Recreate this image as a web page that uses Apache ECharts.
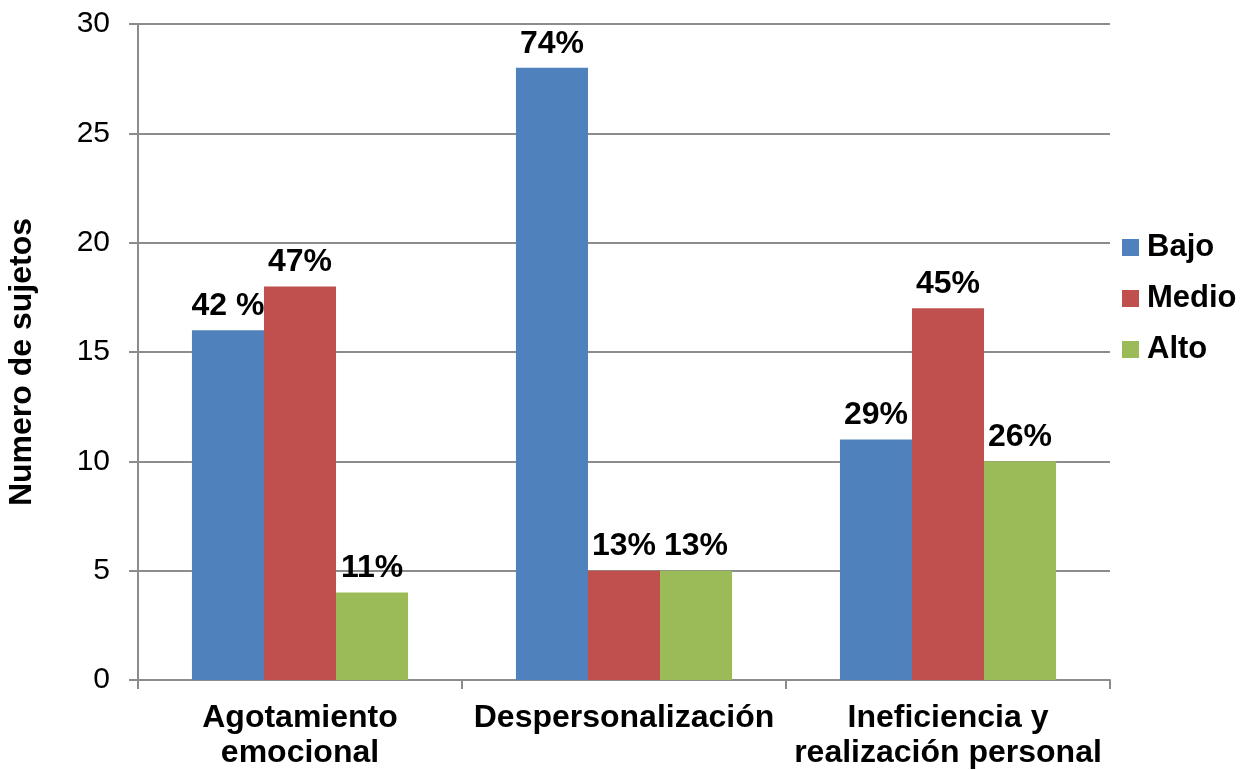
<!DOCTYPE html>
<html>
<head>
<meta charset="utf-8">
<script src="https://cdn.jsdelivr.net/npm/echarts@6/dist/echarts.min.js"></script>
<style>
  html, body { margin: 0; padding: 0; background: #fff; }
  #chart { width: 1250px; height: 770px; }
</style>
</head>
<body>
<div id="chart"></div>
<script>
// datos del grafico
var categorias = ['Agotamiento\nemocional', 'Despersonalización', 'Ineficiencia y\nrealización personal'];
var bajo = [16, 28, 11];
var medio = [18, 5, 17];
var alto = [4, 5, 10];
var pctBajo = ['42 %', '74%', '29%'];
var pctMedio = ['47%', '13%', '45%'];
var pctAlto = ['11%', '13%', '26%'];
var ticksY = [0, 5, 10, 15, 20, 25, 30];

var fuente = 'Liberation Sans, Arial, sans-serif';

function serie(nombre, valores, etiquetas, color) {
    return {
        name: nombre,
        type: 'bar',
        data: valores,
        barGap: '0%',
        barCategoryGap: '33.3%',
        itemStyle: { color: color },
        label: {
            show: true,
            position: 'top',
            distance: 8,
            color: '#000',
            fontFamily: fuente,
            fontWeight: 'bold',
            fontSize: 32,
            formatter: function (p) { return etiquetas[p.dataIndex]; }
        }
    };
}

var myChart = echarts.init(document.getElementById('chart'));
myChart.setOption({
    animation: false,
    textStyle: { fontFamily: fuente },
    grid: { left: 138, right: 140, top: 24, bottom: 90, containLabel: false, outerBoundsMode: 'none' },
    legend: {
        orient: 'vertical',
        left: 1122,
        top: 232,
        padding: 0,
        itemWidth: 17,
        itemHeight: 17,
        itemGap: 20,
        icon: 'rect',
        textStyle: { color: '#000', fontWeight: 'bold', fontSize: 31, fontFamily: fuente, padding: [0, 0, 0, 3] },
        data: ['Bajo', 'Medio', 'Alto']
    },
    xAxis: {
        type: 'category',
        data: categorias,
        axisLine: { lineStyle: { color: '#8c8c8c', width: 2 } },
        axisTick: { show: true, length: 9, lineStyle: { color: '#8c8c8c', width: 2 } },
        axisLabel: {
            color: '#000',
            fontWeight: 'bold',
            fontSize: 32,
            lineHeight: 35,
            margin: 21,
            interval: 0
        }
    },
    yAxis: {
        type: 'value',
        min: ticksY[0],
        max: ticksY[ticksY.length - 1],
        interval: 5,
        name: 'Numero de sujetos',
        nameLocation: 'middle',
        nameGap: 100,
        nameTextStyle: { color: '#000', fontWeight: 'bold', fontSize: 32, padding: [0, 20, 0, 0] },
        axisLine: { show: true, lineStyle: { color: '#8c8c8c', width: 2 } },
        axisTick: { show: true, length: 9, lineStyle: { color: '#8c8c8c', width: 2 } },
        axisLabel: { color: '#000', fontSize: 30, margin: 28 },
        splitLine: { lineStyle: { color: '#8c8c8c', width: 2 } }
    },
    series: [
        serie('Bajo', bajo, pctBajo, '#4F81BD'),
        serie('Medio', medio, pctMedio, '#C0504D'),
        serie('Alto', alto, pctAlto, '#9BBB59')
    ]
});
</script>
</body>
</html>
